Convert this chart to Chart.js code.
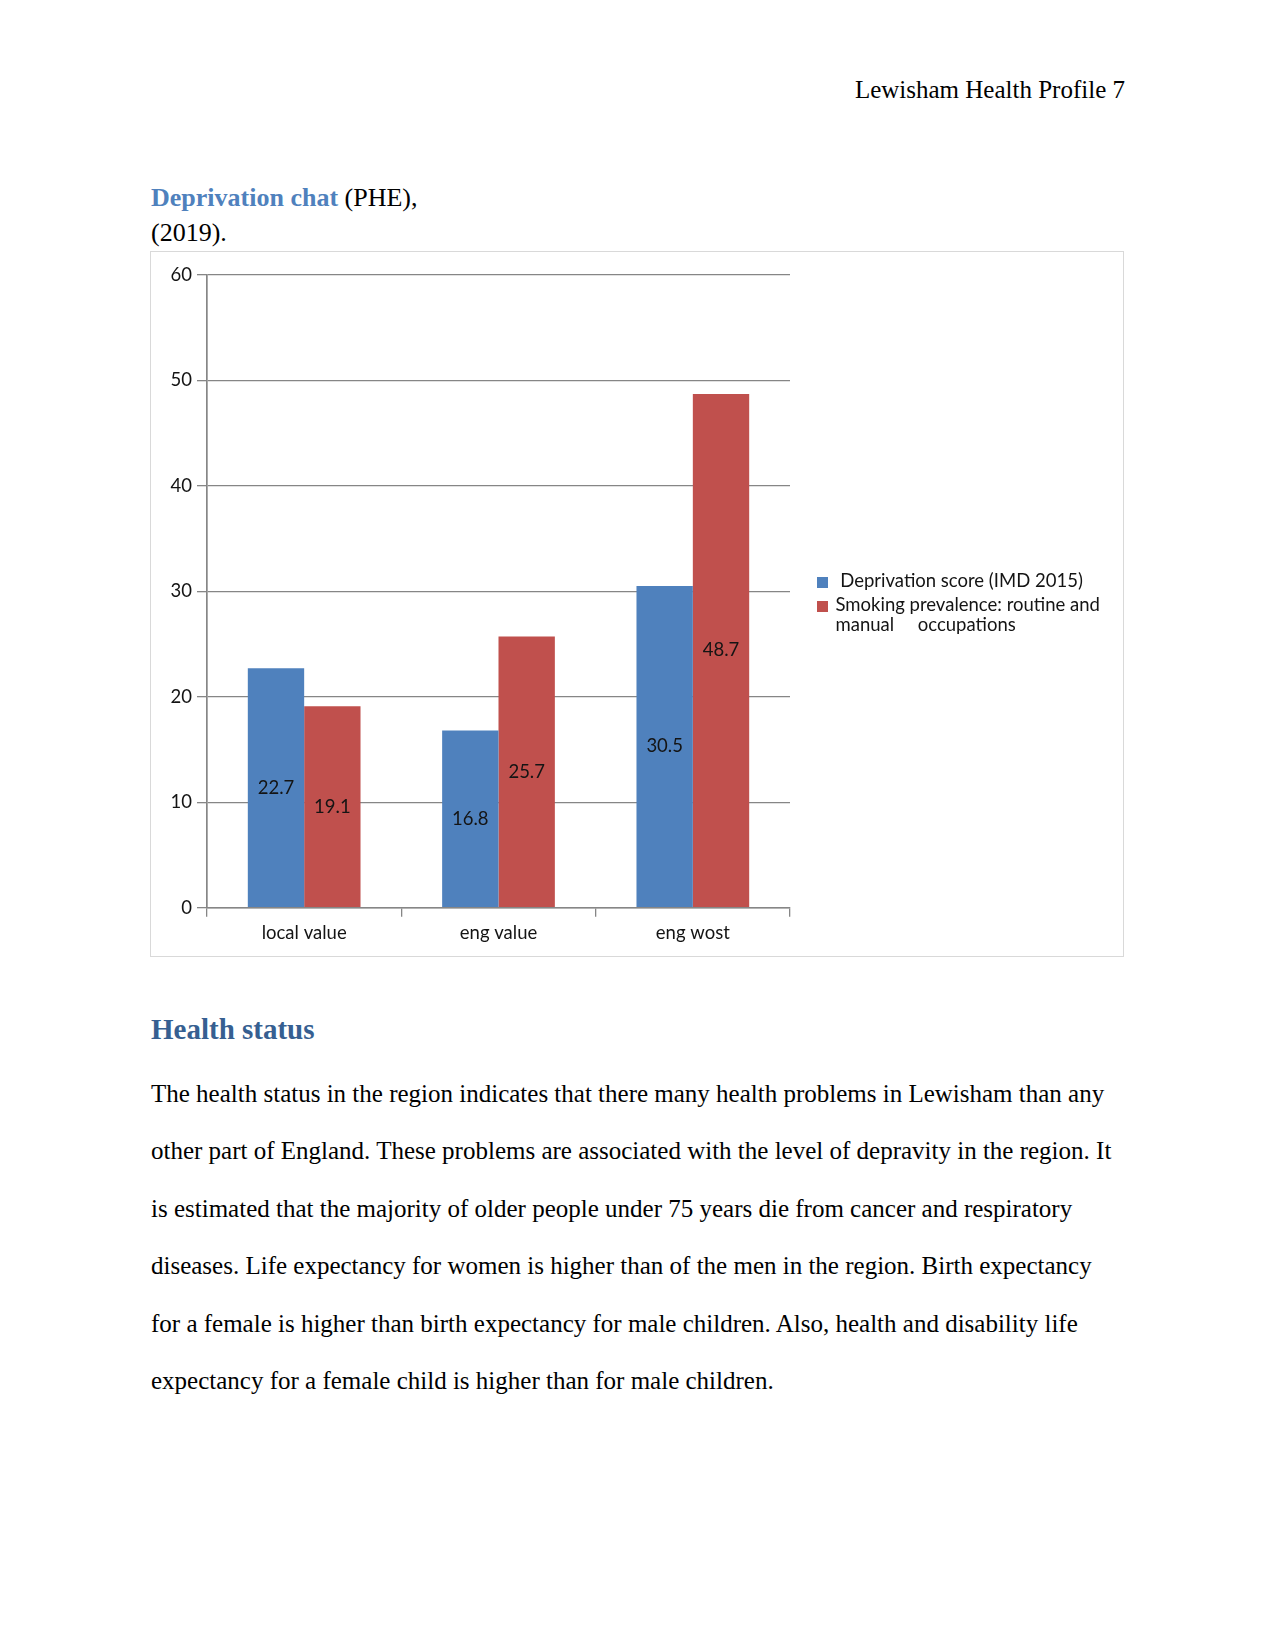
<!DOCTYPE html>
<html>
<head>
<meta charset="utf-8">
<script src="https://cdn.jsdelivr.net/npm/chart.js@4.4.0/dist/chart.umd.min.js"></script>
<style>
  body { margin: 0; background: #fff; }
  .page { position: relative; width: 1275px; height: 1651px; overflow: hidden; font-family: "Liberation Serif", "Times New Roman", serif; color: #000; }
  .hdr { position: absolute; right: 150px; top: 77.4px; font-size: 25px; line-height: 25px; white-space: nowrap; }
  .ttl { position: absolute; left: 151px; top: 180.4px; font-size: 26px; line-height: 35px; white-space: nowrap; }
  .ttl b { color: #4F81BD; }
  .box { position: absolute; left: 150px; top: 251px; width: 974px; height: 706px; box-sizing: border-box; border: 1px solid #d9d9d9; }
  .box canvas { position: absolute; left: 0; top: 0; }
  .h1 { position: absolute; left: 151px; top: 1015px; font-size: 29px; line-height: 29px; font-weight: bold; color: #365F91; white-space: nowrap; }
  .txt { position: absolute; left: 151px; top: 1064.5px; font-size: 25px; line-height: 57.5px; white-space: nowrap; }
</style>
</head>
<body>
<div class="page">
  <div class="hdr">Lewisham Health Profile 7</div>
  <div class="ttl"><b>Deprivation chat</b> (PHE),<br>(2019).</div>
  <div class="box"><canvas id="chart" width="972" height="704"></canvas></div>
  <div class="h1">Health status</div>
  <div class="txt">
    The health status in the region indicates that there many health problems in Lewisham than any<br>
    other part of England. These problems are associated with the level of depravity in the region. It<br>
    is estimated that the majority of older people under 75 years die from cancer and respiratory<br>
    diseases. Life expectancy for women is higher than of the men in the region. Birth expectancy<br>
    for a female is higher than birth expectancy for male children. Also, health and disability life<br>
    expectancy for a female child is higher than for male children.
  </div>
</div>
<script>
const categories = ["local value", "eng value", "eng wost"];
const deprivation = [22.7, 16.8, 30.5];
const smoking = [19.1, 25.7, 48.7];
const seriesNames = ["Deprivation score (IMD 2015)", "Smoking prevalence: routine and manual occupations"];
const legendLines = [[" Deprivation score (IMD 2015)"], ["Smoking prevalence: routine and", "manual     occupations"]];
const yTicks = [0, 10, 20, 30, 40, 50, 60];
const barColors = ["#4F81BD", "#C0504D"];

const axisGray = "#868686";
const textColor = "#141414";

// value labels in the middle of each bar
const barLabels = {
  id: 'barLabels',
  afterDatasetsDraw: chart => {
    const { ctx } = chart;
    ctx.save();
    ctx.font = '18.5px Lato';
    ctx.fillStyle = textColor;
    ctx.textAlign = 'center';
    ctx.textBaseline = 'middle';
    chart.data.datasets.forEach((ds, i) => {
      chart.getDatasetMeta(i).data.forEach((bar, j) => {
        ctx.fillText(ds.data[j].toFixed(1), bar.x, (bar.y + bar.base) / 2);
      });
    });
    ctx.restore();
  }
};

// legend to the right, drawn like the Excel one
const sideLegend = {
  id: 'sideLegend',
  afterDraw: chart => {
    const { ctx, chartArea } = chart;
    const x0 = chartArea.right + 27;
    let y = 325;
    ctx.save();
    ctx.font = '18.5px Lato';
    ctx.fillStyle = textColor;
    ctx.textBaseline = 'alphabetic';
    chart.data.datasets.forEach((ds, i) => {
      ctx.fillStyle = ds.backgroundColor;
      ctx.fillRect(x0, y, 11, 11);
      ctx.fillStyle = textColor;
      legendLines[i].forEach((line, k) => {
        ctx.fillText(line, x0 + 18.5, y + 10 + k * 20);
      });
      y += 24;
    });
    ctx.restore();
  }
};

new Chart("chart", {
  type: "bar",
  data: {
    labels: categories,
    datasets: [
      { label: seriesNames[0], data: deprivation, backgroundColor: barColors[0] },
      { label: seriesNames[1], data: smoking, backgroundColor: barColors[1] }
    ]
  },
  plugins: [barLabels, sideLegend],
  options: {
    responsive: false,
    animation: false,
    events: [],
    layout: { padding: { left: 0, top: 22.7, right: 333, bottom: 0 } },
    datasets: { bar: { categoryPercentage: 0.58, barPercentage: 1 } },
    plugins: {
      legend: { display: false },
      tooltip: { enabled: false }
    },
    scales: {
      x: {
        afterFit: s => { s.height = 48.3; },
        grid: { offset: true, drawOnChartArea: false, drawTicks: true, tickLength: 9, color: axisGray, lineWidth: 1.3 },
        border: { display: true, color: axisGray, width: 1.5 },
        ticks: { font: { family: 'Lato', size: 18.5 }, color: textColor, padding: 5 }
      },
      y: {
        min: 0, max: 60,
        afterFit: s => { s.width = 56; },
        afterBuildTicks: s => { s.ticks = yTicks.map(v => ({ value: v })); },
        grid: { color: axisGray, lineWidth: 1.3, tickLength: 10, drawTicks: true },
        border: { display: true, color: axisGray, width: 1.7 },
        ticks: { font: { family: 'Lato', size: 18.5 }, color: textColor, padding: 5 }
      }
    }
  }
});
</script>
</body>
</html>
